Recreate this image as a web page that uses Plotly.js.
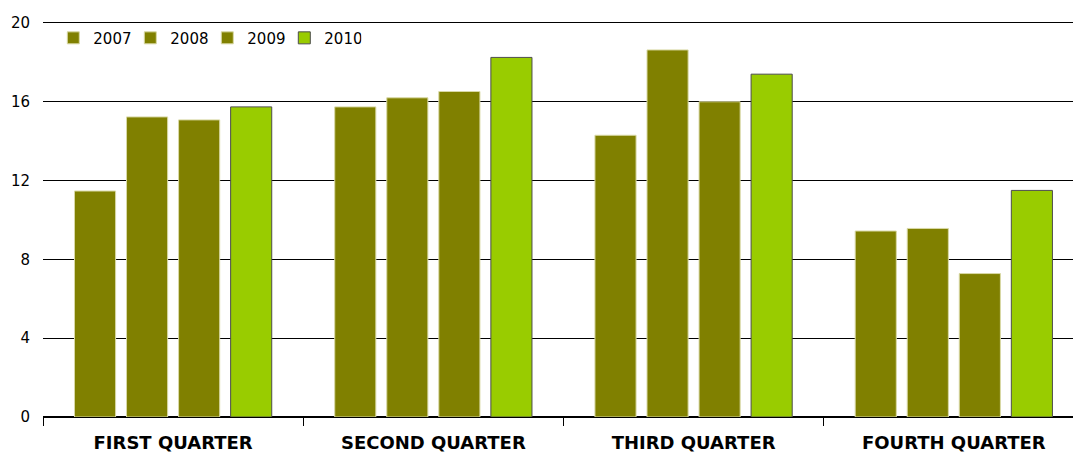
<!DOCTYPE html>
<html>
<head>
<meta charset="utf-8">
<script src="https://cdn.plot.ly/plotly-3.0.1.min.js"></script>
<style>html,body{margin:0;padding:0;background:#fff;}#chart{width:1073px;height:454px;}</style>
</head>
<body>
<div id="chart"></div>
<script>
var categories = ["FIRST QUARTER", "SECOND QUARTER", "THIRD QUARTER", "FOURTH QUARTER"];
var years = ["2007", "2008", "2009", "2010"];
var v2007 = [11.47, 15.74, 14.30, 9.44];
var v2008 = [15.23, 16.20, 18.63, 9.57];
var v2009 = [15.08, 16.52, 16.00, 7.28];
var v2010 = [15.74, 18.25, 17.40, 11.50];
var yTicks = [0, 4, 8, 12, 16, 20];

var series = [v2007, v2008, v2009, v2010];
var fills = ["#808000", "#808000", "#808000", "#99cc00"];
var outlines = ["#d9d9a6", "#d9d9a6", "#d9d9a6", "#4d4d4d"];

var traces = series.map(function (vals, i) {
  return {
    type: "bar",
    name: years[i],
    x: categories,
    y: vals,
    marker: { color: fills[i], line: { color: outlines[i], width: 1 } },
    hoverinfo: "x+y+name"
  };
});

var layout = {
  width: 1073,
  height: 454,
  margin: { l: 43, r: 0, t: 19, b: 37 },
  paper_bgcolor: "#ffffff",
  plot_bgcolor: "#ffffff",
  font: { family: "DejaVu Sans, Verdana, sans-serif", size: 15, color: "#000" },
  barmode: "group",
  bargap: 0.2,
  bargroupgap: 0.21,
  showlegend: true,
  legend: {
    orientation: "h",
    x: 0.010,
    xanchor: "left",
    y: 0.952,
    yanchor: "middle",
    font: { size: 15 },
    bgcolor: "rgba(0,0,0,0)",
    traceorder: "normal",
    entrywidth: 32,
    entrywidthmode: "pixels",
    itemwidth: 30
  },
  xaxis: {
    type: "category",
    range: [-0.5, 3.458],
    showgrid: false,
    zeroline: false,
    showline: false,
    ticks: "outside",
    tickson: "boundaries",
    ticklen: 8,
    tickcolor: "#000",
    tickwidth: 1,
    tickfont: { family: "DejaVu Sans, Verdana, sans-serif", size: 18, color: "#000", weight: "bold" },
    ticklabelstandoff: 13,
    fixedrange: true
  },
  yaxis: {
    range: [0, 20.2],
    tickvals: yTicks,
    ticktext: yTicks.map(String),
    showgrid: true,
    gridcolor: "#000",
    gridwidth: 1,
    zeroline: true,
    zerolinecolor: "#000",
    zerolinewidth: 2,
    showline: false,
    ticks: "",
    ticklabelstandoff: 12,
    tickfont: { size: 15, color: "#000" },
    fixedrange: true
  }
};

Plotly.newPlot("chart", traces, layout, { displayModeBar: false, staticPlot: true });
</script>
</body>
</html>
